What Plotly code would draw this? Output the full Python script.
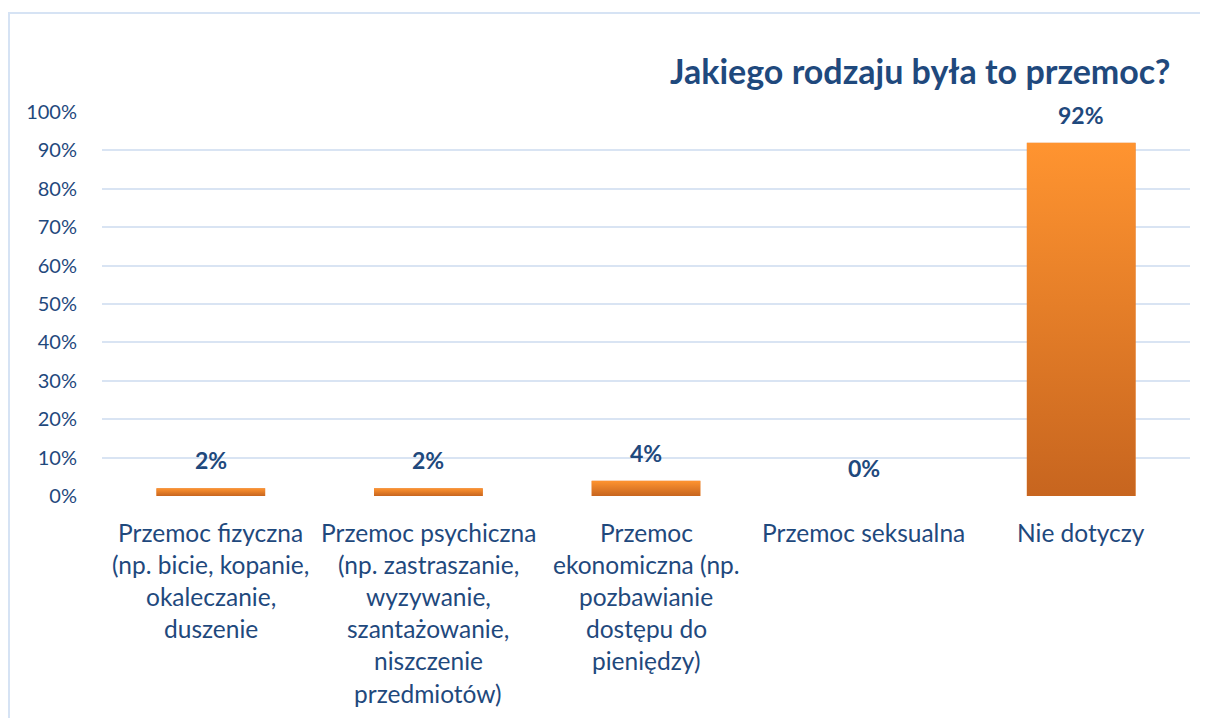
import base64
import plotly.graph_objects as go

categories = [
    "Przemoc fizyczna (np. bicie, kopanie, okaleczanie, duszenie",
    "Przemoc psychiczna (np. zastraszanie, wyzywanie, szantażowanie, niszczenie przedmiotów)",
    "Przemoc ekonomiczna (np. pozbawianie dostępu do pieniędzy)",
    "Przemoc seksualna",
    "Nie dotyczy",
]
label_lines = [
    ["Przemoc fizyczna", "(np. bicie, kopanie,", "okaleczanie,", "duszenie"],
    ["Przemoc psychiczna", "(np. zastraszanie,", "wyzywanie,", "szantażowanie,", "niszczenie", "przedmiotów)"],
    ["Przemoc", "ekonomiczna (np.", "pozbawianie", "dostępu do", "pieniędzy)"],
    ["Przemoc seksualna"],
    ["Nie dotyczy"],
]
values = [0.02, 0.02, 0.04, 0.00, 0.92]
value_labels = ["2%", "2%", "4%", "0%", "92%"]
y_ticks = [0, 0.1, 0.2, 0.3, 0.4, 0.5, 0.6, 0.7, 0.8, 0.9, 1.0]
y_tick_labels = ["0%", "10%", "20%", "30%", "40%", "50%", "60%", "70%", "80%", "90%", "100%"]
title = "Jakiego rodzaju była to przemoc?"

TEXT = "#1F497D"
GRID = "#D9E4F3"
FONT = "Lato"
BAR_W = 0.5

# page body has an 8px margin; compensate so the plot lands where the reference has it
OFF = 8
L, T, PW, PH = 102 - OFF, 112 - OFF, 1088, 384

x_idx = list(range(len(categories)))

fig = go.Figure()
fig.add_trace(go.Bar(
    x=x_idx, y=values, width=BAR_W,
    marker=dict(color="#E57A25", line=dict(width=0)),
    hovertext=categories, hoverinfo="text+y",
))

svg = ('<svg xmlns="http://www.w3.org/2000/svg" width="10" height="100" preserveAspectRatio="none">'
       '<defs><linearGradient id="g" x1="0" y1="0" x2="0" y2="1">'
       '<stop offset="0" stop-color="#FF9430"/><stop offset="1" stop-color="#C7651F"/>'
       '</linearGradient></defs><rect width="10" height="100" fill="url(#g)"/></svg>')
grad_src = "data:image/svg+xml;base64," + base64.b64encode(svg.encode()).decode()

images = []
for i, v in zip(x_idx, values):
    if v > 0:
        images.append(dict(source=grad_src, xref="x", yref="y", x=i - BAR_W / 2, y=v,
                           sizex=BAR_W, sizey=v, sizing="stretch", xanchor="left",
                           yanchor="top", layer="above"))

annotations = []
for i, v, t in zip(x_idx, values, value_labels):
    annotations.append(dict(x=i, y=v, xref="x", yref="y", text=t, showarrow=False,
                            yanchor="middle", yshift=28,
                            font=dict(family=FONT, size=23, color=TEXT, weight="bold")))
for i, lines in zip(x_idx, label_lines):
    for k, line in enumerate(lines):
        annotations.append(dict(x=i, y=0, xref="x", yref="paper", text=line, showarrow=False,
                                yanchor="middle", yshift=-(36 + 32.2 * k),
                                font=dict(family=FONT, size=24.5, color=TEXT)))
annotations.append(dict(x=(1172 - 102) / 1088, y=(496 - 70) / 384, xref="paper", yref="paper",
                        text=title, showarrow=False, xanchor="right", yanchor="middle",
                        font=dict(family=FONT, size=34, color=TEXT, weight="bold")))

shapes = [dict(type="rect", xref="paper", yref="paper",
               x0=(9 - 102) / 1088, x1=1.2, y0=-1, y1=(496 - 13) / 384,
               line=dict(color="#D6E3F4", width=2), fillcolor="rgba(0,0,0,0)", layer="below")]

fig.update_layout(
    width=1208, height=718,
    margin=dict(l=L, r=1208 - L - PW, t=T, b=718 - T - PH),
    paper_bgcolor="white", plot_bgcolor="white",
    showlegend=False,
    font=dict(family=FONT, color=TEXT),
    annotations=annotations, images=images, shapes=shapes,
    xaxis=dict(range=[-0.5, 4.5], showticklabels=False, showgrid=False, zeroline=False,
               showline=False, ticks=""),
    yaxis=dict(range=[0, 1.0], tickvals=y_ticks, ticktext=y_tick_labels,
               showgrid=True, gridcolor=GRID, gridwidth=2, zeroline=False, showline=False,
               ticks="", ticklabelstandoff=24,
               tickfont=dict(family=FONT, size=20, color=TEXT)),
)

fig.write_html("out.html")
